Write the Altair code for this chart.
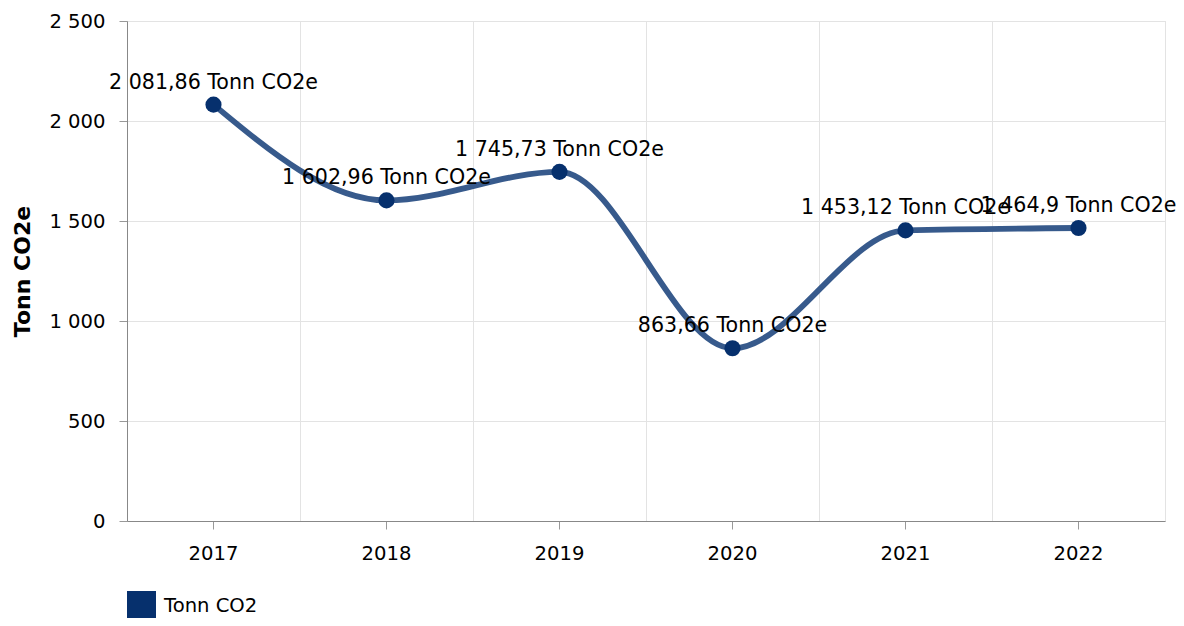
import altair as alt
import pandas as pd

years = ["2017", "2018", "2019", "2020", "2021", "2022"]
values = [2081.86, 1602.96, 1745.73, 863.66, 1453.12, 1464.9]
series_name = "Tonn CO2"
unit = "Tonn CO2e"
y_ticks = [0, 500, 1000, 1500, 2000, 2500]


def fmt(v):
    s = f"{v:,.2f}".rstrip("0").rstrip(".")
    return s.replace(",", " ").replace(".", ",")


df = pd.DataFrame({
    "year": years,
    "value": values,
    "series": [series_name] * len(years),
    "label": [f"{fmt(v)} {unit}" for v in values],
})

FONT = "DejaVu Sans"
FS = 19.6

x_scale = alt.Scale(type="band", paddingInner=0, paddingOuter=0)
y_scale = alt.Scale(domain=[0, 2500], nice=False)

y_axis = alt.Axis(
    values=y_ticks,
    title="Tonn CO2e",
    titleFontSize=22,
    titleFontWeight="bold",
    titleColor="#000",
    titleFont=FONT,
    titleX=-105,
    titleY=250,
    titleAngle=-90,
    titleAlign="center",
    titleBaseline="middle",
    labelExpr="replace(format(datum.value, ','), ',', ' ')",
    labelFontSize=FS,
    labelFont=FONT,
    labelColor="#000",
    labelPadding=14,
    tickSize=8,
    tickColor="#999",
    domainColor="#888",
    grid=True,
    gridColor="#e3e3e3",
)

x_grid_axis = alt.Axis(
    orient="top",
    grid=True,
    gridColor="#e3e3e3",
    tickBand="extent",
    labels=False,
    ticks=False,
    domain=False,
    title=None,
)

x_label_axis = alt.Axis(
    orient="bottom",
    grid=False,
    ticks=True,
    tickSize=8,
    tickColor="#999",
    domainColor="#888",
    labelAngle=0,
    labelFontSize=FS,
    labelFont=FONT,
    labelColor="#000",
    labelPadding=15,
    title=None,
)

base = alt.Chart(df)

line = base.mark_line(interpolate="monotone", strokeWidth=5.8, color="#375a8c").encode(
    x=alt.X("year:N", scale=x_scale, axis=x_grid_axis, sort=years),
    y=alt.Y("value:Q", scale=y_scale, axis=y_axis),
)

points = base.mark_circle(size=260, opacity=1).encode(
    x=alt.X("year:N", scale=x_scale, axis=x_label_axis, sort=years),
    y=alt.Y("value:Q", scale=y_scale, axis=y_axis),
    color=alt.Color(
        "series:N",
        scale=alt.Scale(domain=[series_name], range=["#06306d"]),
        legend=alt.Legend(
            orient="none",
            legendX=0,
            legendY=570,
            title=None,
            symbolType="square",
            symbolSize=841,
            symbolStrokeWidth=0,
            symbolOpacity=1,
            labelFontSize=FS,
            labelFont=FONT,
            labelColor="#000",
            labelOffset=8,
            padding=0,
        ),
    ),
)

text = base.mark_text(
    fontSize=20.6, font=FONT, color="#000", dy=-22, baseline="middle", align="center"
).encode(
    x=alt.X("year:N", scale=x_scale, axis=None, sort=years),
    y=alt.Y("value:Q", scale=y_scale, axis=y_axis),
    text="label:N",
)

chart = (
    alt.layer(line, points, text)
    .resolve_axis(x="independent")
    .properties(
        width=1038,
        height=500,
        padding={"left": 119, "top": 13, "right": 11, "bottom": 97},
        autosize=alt.AutoSizeParams(type="none"),
    )
    .configure_view(stroke=None)
    .configure(font=FONT)
)

chart.save("out.html", embed_options={"renderer": "svg", "actions": False})
